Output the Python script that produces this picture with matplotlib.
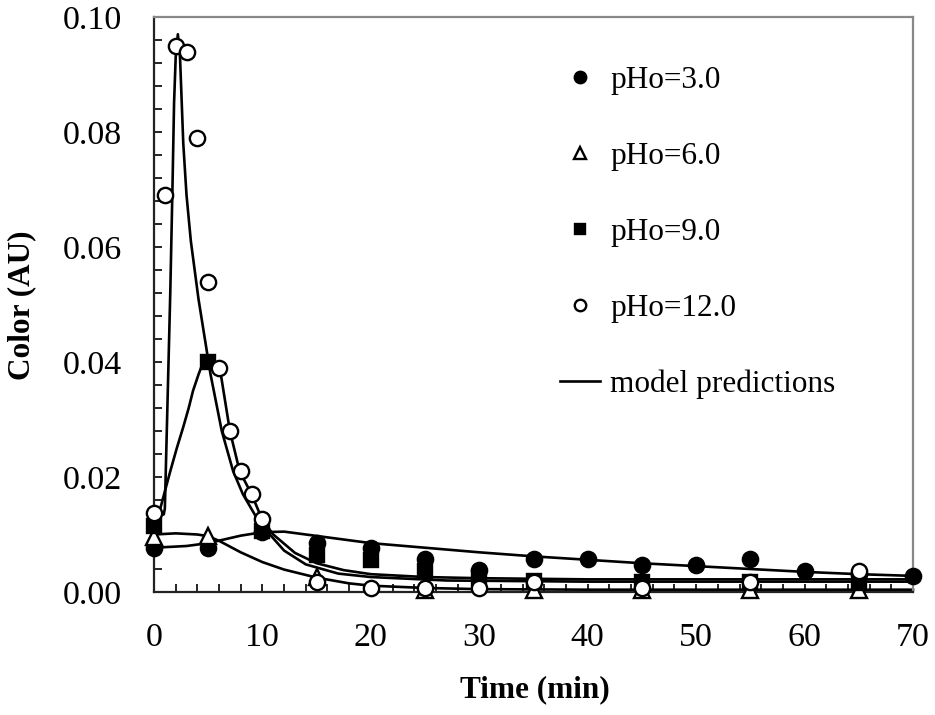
import numpy as np
import matplotlib
matplotlib.use("Agg")
import matplotlib.pyplot as plt
from matplotlib.ticker import MultipleLocator, FormatStrFormatter

plt.rcParams['font.family'] = ['Liberation Serif', 'DejaVu Serif']

# measured points
t_ph3 = [0, 5, 10, 15, 20, 25, 30, 35, 40, 45, 50, 55, 60, 65, 70]
c_ph3 = [0.0077, 0.0077, 0.0105, 0.0085, 0.0077, 0.0057, 0.0038, 0.0057,
         0.0057, 0.0047, 0.0047, 0.0057, 0.0037, 0.0032, 0.0028]

t_ph6 = [0, 5, 15, 25, 35, 45, 55, 65]
c_ph6 = [0.0096, 0.0097, 0.0026, 0.0003, 0.0003, 0.0003, 0.0003, 0.0003]

t_ph9 = [0, 5, 10, 15, 20, 25, 30, 35, 45, 55, 65]
c_ph9 = [0.0115, 0.040, 0.0106, 0.0065, 0.0056, 0.0037, 0.0025, 0.0019,
         0.0018, 0.0017, 0.0015]

t_ph12 = [0, 1, 2, 3, 4, 5, 6, 7, 8, 9, 10, 15, 20, 25, 30, 35, 45, 55, 65]
c_ph12 = [0.0137, 0.069, 0.095, 0.094, 0.079, 0.054, 0.039, 0.028, 0.021,
          0.017, 0.0127, 0.0017, 0.0007, 0.0007, 0.0007, 0.0017, 0.0007,
          0.0017, 0.0037]

# model curves
m3_t = [0, 3, 5, 8, 10, 12, 16, 20, 25, 30, 35, 40, 45, 50, 55, 60, 65, 70]
m3_c = [0.0077, 0.0080, 0.0085, 0.0098, 0.0104, 0.0105, 0.0095, 0.0085,
        0.0077, 0.0069, 0.0062, 0.0056, 0.0050, 0.0045, 0.0040, 0.0035,
        0.0031, 0.0028]

m6_t = [0, 2, 4, 5, 6, 8, 10, 12, 15, 18, 20, 25, 30, 40, 70]
m6_c = [0.0100, 0.0102, 0.0100, 0.0097, 0.0089, 0.0069, 0.0052, 0.0039,
        0.0025, 0.0015, 0.0011, 0.0007, 0.0005, 0.0004, 0.0004]

m9_t = [0, 0.3, 1.0, 1.5, 2.1, 2.7, 3.2, 3.6, 4.1, 4.5, 5, 5.5, 6.1, 7, 7.9,
        9, 10, 11, 13, 15, 17.5, 20, 25, 30, 40, 55, 70]
m9_c = [0.0115, 0.0125, 0.0175, 0.021, 0.025, 0.0287, 0.032, 0.035, 0.0378,
        0.0398, 0.0403, 0.040, 0.0386, 0.028, 0.021, 0.017, 0.0125, 0.0100,
        0.0068, 0.0050, 0.0038, 0.0031, 0.0026, 0.0024, 0.0022, 0.0022,
        0.0022]

m12_t = [0, 0.5, 0.9, 1.0, 1.3, 1.5, 1.7, 1.85, 2.0, 2.2, 2.4, 2.7, 3.0, 3.4,
         4.1, 5.2, 6.25, 7.3, 8.2, 9.5, 10.5, 12, 14, 17, 20, 27, 40, 70]
m12_c = [0.0132, 0.0133, 0.0135, 0.0145, 0.037, 0.052, 0.070, 0.085, 0.093,
         0.097, 0.093, 0.078, 0.069, 0.061, 0.051, 0.038, 0.028, 0.021, 0.017,
         0.0128, 0.0104, 0.0072, 0.0048, 0.0032, 0.0026, 0.0020, 0.0018,
         0.0018]

fs = 22.5
tfs = 24.5

fig = plt.figure(figsize=(9.35, 7.15), dpi=100)
ax = fig.add_axes([154/935, 1-592/715, (913-154)/935, (592-17)/715])

lw = 1.9
for mt, mc in [(m3_t, m3_c), (m6_t, m6_c), (m9_t, m9_c), (m12_t, m12_c)]:
    ax.plot(mt, mc, color='black', lw=lw, zorder=2, clip_on=False)

ms = 11
mew = 1.7
ax.plot(t_ph3, c_ph3, 'o', ms=ms, mfc='black', mec='black', mew=mew,
        zorder=3, clip_on=False, label='pHo=3.0')
ax.plot(t_ph6, c_ph6, '^', ms=ms, mfc='white', mec='black', mew=mew,
        zorder=4, clip_on=False, label='pHo=6.0')
ax.plot(t_ph9, c_ph9, 's', ms=ms - 0.5, mfc='black', mec='black', mew=mew,
        zorder=5, clip_on=False, label='pHo=9.0')
ax.plot(t_ph12, c_ph12, 'o', ms=ms, mfc='white', mec='black', mew=mew,
        zorder=6, clip_on=False, label='pHo=12.0')
ax.plot([], [], color='black', lw=lw, label='model predictions')

ax.set_xlim(0, 70)
ax.set_ylim(0, 0.10)
ax.xaxis.set_major_locator(MultipleLocator(10))
ax.xaxis.set_minor_locator(MultipleLocator(2))
ax.yaxis.set_major_locator(MultipleLocator(0.02))
ax.yaxis.set_minor_locator(MultipleLocator(0.004))
ax.yaxis.set_major_formatter(FormatStrFormatter('%.2f'))

ax.tick_params(which='both', direction='in', length=6, width=1.2,
               top=False, right=False, labelsize=tfs)
ax.tick_params(axis='y', pad=23)
ax.tick_params(axis='x', pad=22)

for s in ['left', 'bottom']:
    ax.spines[s].set_color('#222222')
    ax.spines[s].set_linewidth(1.6)
for s in ['top', 'right']:
    ax.spines[s].set_color('#888888')
    ax.spines[s].set_linewidth(1.6)

fig.text(535/935, 1-690/715, 'Time (min)', fontsize=fs, fontweight='bold',
         ha='center', va='center')
fig.text(22/935, 1-305/715, 'Color (AU)', fontsize=fs, fontweight='bold',
         ha='center', va='center', rotation=90)

leg = ax.legend(loc='upper left', bbox_to_anchor=(560/935, 1-66/715),
                bbox_transform=fig.transFigure, frameon=False, fontsize=fs,
                handlelength=1.28, handletextpad=0.32, labelspacing=1.5,
                borderpad=0, borderaxespad=0, markerscale=0.75)

fig.savefig('out.png', dpi=100)
